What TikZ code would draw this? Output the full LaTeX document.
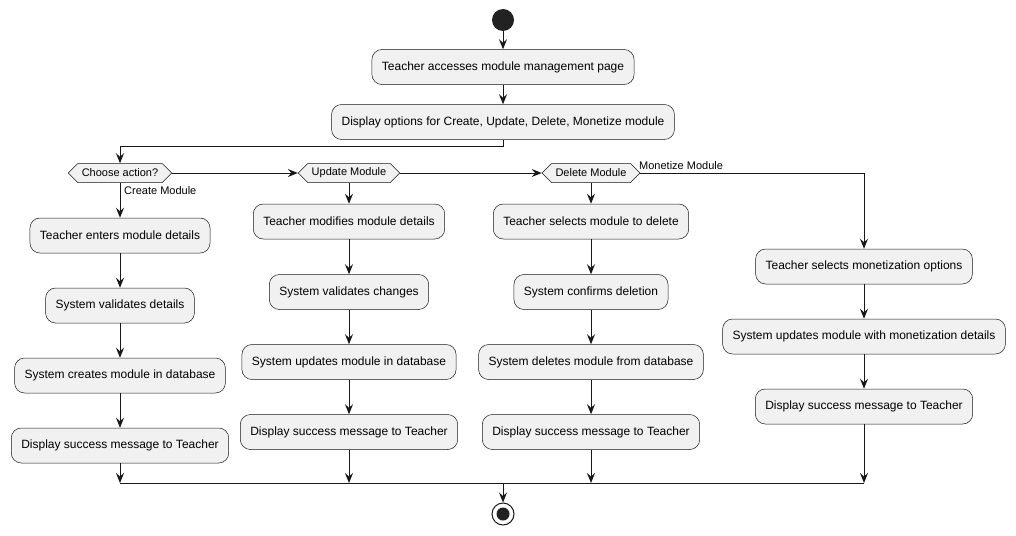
\documentclass[tikz,border=0pt]{standalone}
\usepackage{fontspec}
\setmainfont{Liberation Sans}
\usetikzlibrary{arrows.meta,shapes.symbols}
\definecolor{boxfill}{HTML}{F1F1F1}
\definecolor{boxline}{HTML}{181818}
\definecolor{ink}{HTML}{222222}
\begin{document}
\begin{tikzpicture}[x=1pt,y=-1pt,
  act/.style={draw=boxline,fill=boxfill,rounded corners=10pt,line width=0.5pt,
    inner xsep=10pt,inner ysep=0pt,minimum height=35pt,font=\fontsize{12}{14}\selectfont},
  dec/.style={draw=boxline,fill=boxfill,signal,signal to=east and west,line width=0.5pt,
    inner xsep=4pt,inner ysep=0pt,minimum height=19pt,font=\fontsize{11}{13}\selectfont},
  lbl/.style={font=\fontsize{11}{13}\selectfont,inner sep=0pt},
  arr/.style={draw=boxline,line width=1pt,-{Stealth[length=10pt,width=8pt,inset=3.5pt]}},
  ln/.style={draw=boxline,line width=1pt}]
\useasboundingbox (0,0) rectangle (1016,535);
\fill[white] (0,0) rectangle (1016,535);
% start
\node[circle,fill=ink,minimum size=22pt,inner sep=0pt] (start) at (503,20) {};
\node[act] (acc) at (503,67) {Teacher accesses module management page};
\node[act] (opt) at (503,122) {Display options for Create, Update, Delete, Monetize module};
% decisions
\node[dec] (choose) at (120,173) {Choose action?};
\node[dec] (upd) at (349,173) {Update Module};
\node[dec] (del) at (591,173) {Delete Module};
% create column
\node[act] (c1) at (120,235.5) {Teacher enters module details};
\node[act] (c2) at (120,305.5) {System validates details};
\node[act] (c3) at (120,375.5) {System creates module in database};
\node[act] (c4) at (120,445.5) {Display success message to Teacher};
% update column
\node[act] (u1) at (349,221.5) {Teacher modifies module details};
\node[act] (u2) at (349,292) {System validates changes};
\node[act] (u3) at (349,362) {System updates module in database};
\node[act] (u4) at (349,432) {Display success message to Teacher};
% delete column
\node[act] (d1) at (591,221.5) {Teacher selects module to delete};
\node[act] (d2) at (591,292) {System confirms deletion};
\node[act] (d3) at (591,362) {System deletes module from database};
\node[act] (d4) at (591,432) {Display success message to Teacher};
% monetize column
\node[act] (m1) at (864,266.5) {Teacher selects monetization options};
\node[act] (m2) at (864,336.5) {System updates module with monetization details};
\node[act] (m3) at (864,406.5) {Display success message to Teacher};
% end
\node[circle,draw=boxline,fill=white,line width=1pt,minimum size=22pt,inner sep=0pt] (end) at (503,514) {};
\fill[ink] (end.center) circle (6.5pt);
% labels
\node[lbl,anchor=south west] (lm) at (639,170) {Monetize Module};
\node[lbl,anchor=west] (lc) at (124,191) {Create Module};
% coordinates
\coordinate (jc) at (120,483);
\coordinate (ju) at (349,483);
\coordinate (jd) at (591,483);
\coordinate (jm) at (864,483);
\coordinate (je) at (503,483);
% connectors
\draw[arr] (start) -- (acc);
\draw[arr] (acc) -- (opt);
\draw[arr] (opt.south) -- ++(0,7) -| (choose.north);
\draw[arr] (choose.east) -- (upd.west);
\draw[arr] (upd.east) -- (del.west);
\draw[arr] (del.east) -| (m1.north);
\draw[arr] (choose.south) -- (c1);
\draw[arr] (c1) -- (c2);
\draw[arr] (c2) -- (c3);
\draw[arr] (c3) -- (c4);
\draw[arr] (upd.south) -- (u1);
\draw[arr] (u1) -- (u2);
\draw[arr] (u2) -- (u3);
\draw[arr] (u3) -- (u4);
\draw[arr] (del.south) -- (d1);
\draw[arr] (d1) -- (d2);
\draw[arr] (d2) -- (d3);
\draw[arr] (d3) -- (d4);
\draw[arr] (m1) -- (m2);
\draw[arr] (m2) -- (m3);
\draw[arr] (c4) -- (jc);
\draw[arr] (u4) -- (ju);
\draw[arr] (d4) -- (jd);
\draw[arr] (m3) -- (jm);
\draw[ln] (jc) -- (jm);
\draw[arr] (je) -- (end);
\end{tikzpicture}
\end{document}
